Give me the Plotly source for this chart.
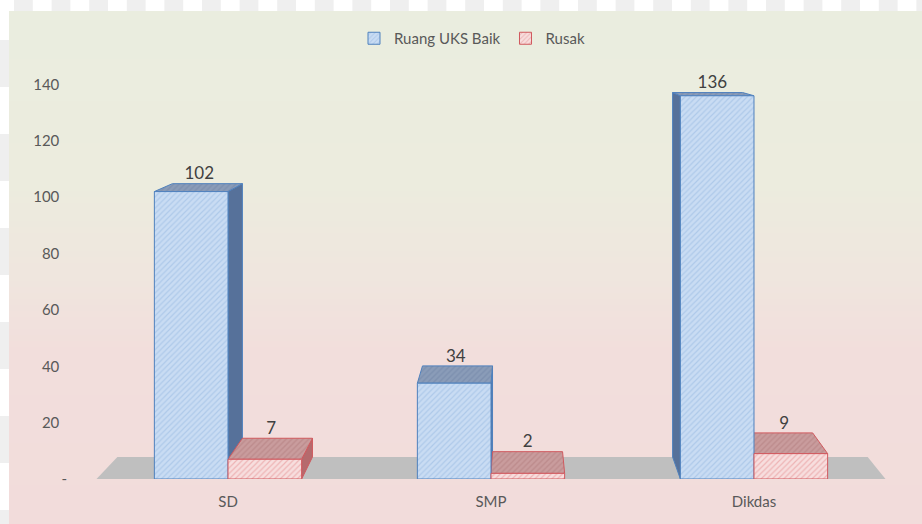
import plotly.graph_objects as go

# data
categories = ["SD", "SMP", "Dikdas"]
baik = [102, 34, 136]
rusak = [7, 2, 9]
y_tickvals = [0, 20, 40, 60, 80, 100, 120, 140]
y_ticktext = ["-", "20", "40", "60", "80", "100", "120", "140"]

W, H = 922, 524
L, R, T, B = 70, 10, 50, 45
XR = [-0.6008, 2.6008]
YR = [0, 152.24]

# fake 3D: perspective toward a vanishing point (data units)
BAR_W = 0.28
VX, VY, S = 1.118, 159.2, 0.951
FONT = "Lato"


def proj(x, y, s=S):
    return VX + (x - VX) * s, VY + (y - VY) * s


def px_x(px):
    return (px - L) / (W - L - R)


def px_y(py):
    return 1 - (py - T) / (H - T - B)


def lerp(c1, c2, t):
    return tuple(round(a + (b - a) * t) for a, b in zip(c1, c2))


shapes = []
# transparency checker peeking out at top and left
for c in range(1, 50, 2):
    x0 = -4.8 + 18.8 * c
    shapes.append(dict(type="rect", xref="paper", yref="paper", layer="below",
                       x0=px_x(x0), x1=px_x(x0 + 18.8), y0=px_y(0), y1=px_y(11),
                       fillcolor="#efefef", line_width=0))
for r in range(1, 12, 2):
    y0 = -7 + 47 * r
    shapes.append(dict(type="rect", xref="paper", yref="paper", layer="below",
                       x0=px_x(0), x1=px_x(9), y0=px_y(y0), y1=px_y(y0 + 47),
                       fillcolor="#efefef", line_width=0))

# chart area gradient, green on top to pink below
stops = [(11, (234, 237, 223)), (180, (236, 236, 222)), (270, (239, 230, 222)),
         (350, (242, 222, 220)), (524, (242, 220, 219))]
step = 6
for py in range(11, 524, step):
    for (a, ca), (b, cb) in zip(stops[:-1], stops[1:]):
        if a <= py <= b:
            col = lerp(ca, cb, (py - a) / (b - a))
            break
    shapes.append(dict(type="rect", xref="paper", yref="paper", layer="below",
                       x0=px_x(9), x1=px_x(922), y0=px_y(py), y1=px_y(min(py + step + 1, 524)),
                       fillcolor="rgb(%d,%d,%d)" % col, line_width=0))

fig = go.Figure()

# floor
fl = [(-0.5, 0), (2.5, 0), proj(2.5, 0), proj(-0.5, 0), (-0.5, 0)]
fig.add_trace(go.Scatter(x=[p[0] for p in fl], y=[p[1] for p in fl], mode="lines",
                         fill="toself", fillcolor="#bfbfbf", line=dict(width=0),
                         hoverinfo="skip", showlegend=False))


def faces(values, x_off):
    tops_x, tops_y, sides_x, sides_y = [], [], [], []
    for i, v in enumerate(values):
        x0, x1 = i + x_off, i + x_off + BAR_W
        poly = [(x0, v), (x1, v), proj(x1, v), proj(x0, v), (x0, v)]
        tops_x += [p[0] for p in poly] + [None]
        tops_y += [p[1] for p in poly] + [None]
        if x1 < VX:
            xs = x1
        elif x0 > VX:
            xs = x0
        else:
            continue
        poly = [(xs, 0), (xs, v), proj(xs, v), proj(xs, 0), (xs, 0)]
        sides_x += [p[0] for p in poly] + [None]
        sides_y += [p[1] for p in poly] + [None]
    return tops_x, tops_y, sides_x, sides_y


series = [
    ("Ruang UKS Baik", baik, -BAR_W,
     dict(bg="#c9dcf3", fg="#94b6e0", line="#4f81bd",
          top_bg="#8a9cb8", top_fg="#6f84a6", side="#56719a")),
    ("Rusak", rusak, 0.0,
     dict(bg="#f7dede", fg="#e4898c", line="#d0595e",
          top_bg="#c99c9d", top_fg="#b27b7d", side="#b56a6d")),
]

for name, vals, off, st in series:
    tx, ty, sx, sy = faces(vals, off)
    if sx:
        fig.add_trace(go.Scatter(x=sx, y=sy, mode="lines", fill="toself",
                                 fillcolor=st["side"], line=dict(color=st["line"], width=1),
                                 hoverinfo="skip", showlegend=False))
    fig.add_trace(go.Scatter(x=tx, y=ty, mode="lines", fill="toself",
                             fillcolor=st["top_bg"],
                             fillpattern=dict(shape="/", fgcolor=st["top_fg"],
                                              bgcolor=st["top_bg"], size=4, solidity=0.35),
                             line=dict(color=st["line"], width=1),
                             hoverinfo="skip", showlegend=False))

# front faces on an overlaid axis so they sit above the side/top faces
for name, vals, off, st in series:
    fig.add_trace(go.Bar(
        x=[0, 1, 2], y=vals, width=BAR_W, offset=off, name=name,
        xaxis="x2", yaxis="y2",
        marker=dict(color=st["bg"], line=dict(color=st["line"], width=1),
                    pattern=dict(shape="/", fgcolor=st["fg"], bgcolor=st["bg"],
                                 size=4, solidity=0.3)),
        hovertemplate="%{y}<extra>" + name + "</extra>",
    ))

# value labels above the top face of each bar
for name, vals, off, st in series:
    pts = [(proj(i + off + BAR_W / 2, v, (1 + S) / 2)[0], proj(0, v)[1])
           for i, v in enumerate(vals)]
    fig.add_trace(go.Scatter(
        x=[p[0] for p in pts], y=[p[1] for p in pts], mode="text",
        text=[str(v) for v in vals], textposition="top center",
        textfont=dict(family=FONT, size=17, color="#404040"),
        xaxis="x2", yaxis="y2", hoverinfo="skip", showlegend=False))

fig.update_layout(
    width=W, height=H,
    margin=dict(l=L, r=R, t=T, b=B),
    paper_bgcolor="white",
    plot_bgcolor="rgba(0,0,0,0)",
    shapes=shapes,
    font=dict(family=FONT, size=15, color="#595959"),
    showlegend=True,
    legend=dict(orientation="h", x=px_x(472), xanchor="center", y=px_y(22), yanchor="top",
                bgcolor="rgba(0,0,0,0)", font=dict(size=15, color="#595959"),
                itemwidth=30),
    xaxis=dict(range=XR, tickvals=[0, 1, 2], ticktext=categories, showgrid=False,
               zeroline=False, showline=False, ticks="", ticklabelstandoff=12),
    yaxis=dict(range=YR, tickvals=y_tickvals,
               ticktext=[t if t == "-" else t + "\u00a0\u00a0" for t in y_ticktext],
               showgrid=False, zeroline=False, showline=False, ticks="",
               ticklabelstandoff=2),
    xaxis2=dict(range=XR, overlaying="x", visible=False),
    yaxis2=dict(range=YR, overlaying="y", visible=False),
)

# drop the default 8px page margin so the figure sits at the window corner
fig.write_html("out.html", config={"displayModeBar": False},
               post_script="document.body.style.margin='0';")
